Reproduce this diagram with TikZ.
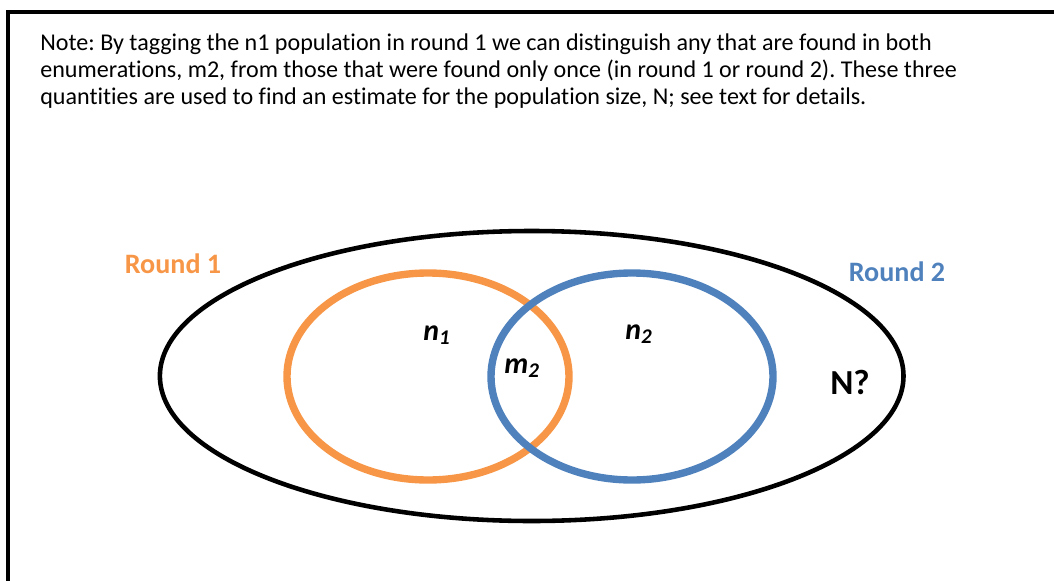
\documentclass[tikz,border=0pt]{standalone}
\usepackage{fontspec}
\setmainfont{Carlito}[Ligatures=CommonOff]
\usetikzlibrary{positioning}
\definecolor{rOrange}{HTML}{F79646}
\definecolor{rBlue}{HTML}{4F81BD}
\frenchspacing

\begin{document}
\begin{tikzpicture}[x=0.02cm, y=-0.02cm,
    roundlbl/.style={font=\fontsize{16}{19}\selectfont\bfseries},
    setlbl/.style={font=\fontsize{17}{20}\selectfont\bfseries\itshape}]
    \useasboundingbox (0,0) rectangle (1054,581);
    % frame, cut by the page edge
    \draw[line width=2.3pt] (8,620) -- (8,12) -- (1090,12);
    \node[anchor=north west, inner sep=0pt, align=left,
          font=\fontsize{13.7}{15.4}\selectfont] (note) at (40,33)
      {Note: By tagging the n1 population in round 1 we can distinguish any that are found in both\\
       enumerations, m2, from those that were found only once (in round 1 or round 2). These three\\
       quantities are used to find an estimate for the population size, N; see text for details.};
    % population and the two rounds
    \draw[line width=2.6pt] (531.7,376) ellipse (371.8 and 145);
    \draw[rOrange, line width=4.2pt] (428,376.5) ellipse (141 and 103.5);
    \draw[rBlue, line width=4.2pt] (632,376.5) ellipse (141 and 103.5);
    \node[roundlbl, text=rOrange] (r1) at (173,264) {Round 1};
    \node[roundlbl, text=rBlue] (r2) at (897,272) {Round 2};
    \node[setlbl] (n1) at (437,335) {n\textsubscript{1}};
    \node[setlbl] (m2) at (522,368) {m\textsubscript{2}};
    \node[setlbl] (n2) at (639,334) {n\textsubscript{2}};
    \node[font=\fontsize{20}{24}\selectfont\bfseries] (pop) at (850,382) {N?};
\end{tikzpicture}
\end{document}
